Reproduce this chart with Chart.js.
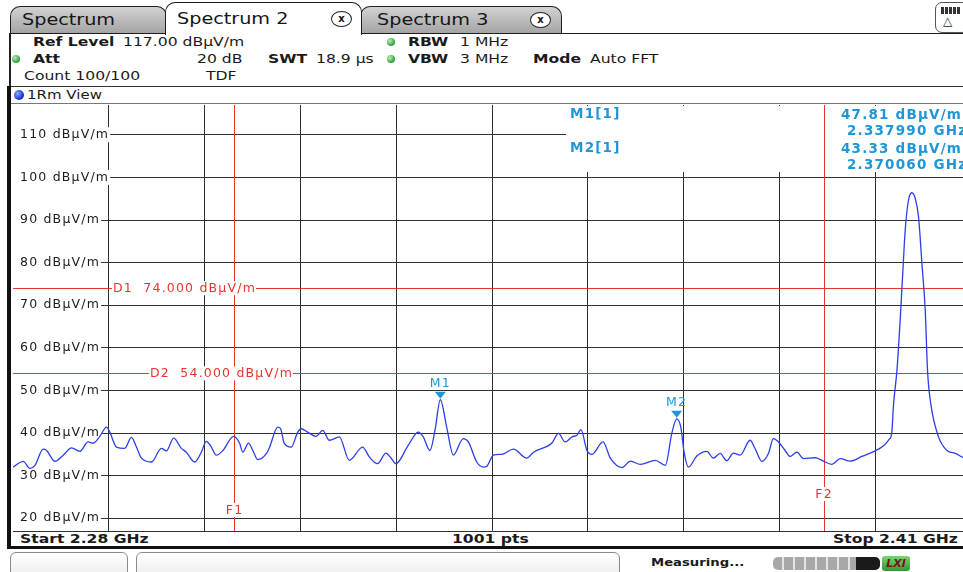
<!DOCTYPE html>
<html lang="en">
<head>
<meta charset="utf-8">
<title>Spectrum 2</title>
<script src="https://cdn.jsdelivr.net/npm/chart.js@4.4.1/dist/chart.umd.min.js"></script>
<style>
  html, body { margin:0; padding:0; background:#fff; }
  body { width:963px; height:572px; overflow:hidden; position:relative; font-family:"DejaVu Sans", sans-serif; color:#1a1a1a; }
  .t { position:absolute; white-space:nowrap; font-size:13px; line-height:16px; transform:scaleX(1.2); transform-origin:0 50%; }
  .b { font-weight:bold; }
  .tab { position:absolute; box-sizing:border-box; border:1.5px solid #1e1e1e; border-bottom:none; border-radius:10px 10px 0 0; }
  .tab.off { background:linear-gradient(#d2d2d2, #a4a4a4); height:27px; top:6px; }
  .tab.on { background:#fff; top:2px; height:33px; z-index:3; }
  .tab .lbl { position:absolute; font-size:16px; line-height:20px; white-space:nowrap; transform:scaleX(1.2); transform-origin:0 50%; color:#151515; }
  .close { position:absolute; box-sizing:border-box; width:21px; height:16px; border:1.5px solid #222; border-radius:50%; font-size:10px; font-weight:bold; line-height:13px; text-align:center; color:#111; background:#fff; }
  .dot { position:absolute; width:8px; height:8px; border-radius:50%; background:radial-gradient(circle at 35% 35%, #b6f0b6, #2f9d3c 70%); }
  .box { position:absolute; box-sizing:border-box; border:1px solid #8a8a8a; border-radius:6px; background:linear-gradient(#ffffff, #ececec); }
  #plot { position:absolute; left:0; top:100px; width:980px; height:436px; }
</style>
</head>
<body>
  <!-- tab strip -->
  <div class="tab off" style="left:10px;width:157px;"><span class="lbl" style="left:11px;top:3px;">Spectrum</span></div>
  <div class="tab off" style="left:360px;width:202px;"><span class="lbl" style="left:16px;top:3px;">Spectrum 3</span><span class="close" style="left:169px;top:5px;">x</span></div>
  <div class="tab on" style="left:165px;width:197px;"><span class="lbl" style="left:11px;top:6px;">Spectrum 2</span><span class="close" style="left:165px;top:8px;">x</span></div>
  <div style="position:absolute;left:935px;top:2px;width:34px;height:31px;box-sizing:border-box;border:1.5px solid #555;border-radius:7px;background:#fff;">
    <div style="position:absolute;left:5px;top:4px;width:20px;height:7px;background:repeating-linear-gradient(90deg,#333 0 3px,#fff 3px 4px);"></div>
    <span style="position:absolute;left:7px;top:11px;font-size:12px;line-height:14px;">△</span>
  </div>

  <!-- settings header -->
  <div style="position:absolute;left:9px;top:33px;width:960px;height:0;border-top:1.5px solid #1e1e1e;"></div>
  <div style="position:absolute;left:9px;top:33px;width:2px;height:53px;background:#222;"></div>

  <span class="t b" style="left:33px;top:34px;">Ref Level</span>
  <span class="t" style="left:123px;top:34px;">117.00 dBµV/m</span>
  <span class="dot" style="left:387px;top:38px;"></span>
  <span class="t b" style="left:408px;top:34px;">RBW</span>
  <span class="t" style="left:460px;top:34px;">1 MHz</span>

  <span class="dot" style="left:12px;top:55px;"></span>
  <span class="t b" style="left:33px;top:51px;">Att</span>
  <span class="t" style="left:197px;top:51px;">20 dB</span>
  <span class="t b" style="left:268px;top:51px;">SWT</span>
  <span class="t" style="left:316px;top:51px;">18.9 µs</span>
  <span class="dot" style="left:387px;top:55px;"></span>
  <span class="t b" style="left:408px;top:51px;">VBW</span>
  <span class="t" style="left:460px;top:51px;">3 MHz</span>
  <span class="t b" style="left:533px;top:51px;">Mode</span>
  <span class="t" style="left:590px;top:51px;">Auto FFT</span>

  <span class="t" style="left:24px;top:68px;">Count 100/100</span>
  <span class="t" style="left:206px;top:68px;">TDF</span>

  <!-- view title bar -->
  <div style="position:absolute;left:9px;top:86px;width:960px;height:18px;box-sizing:border-box;border-top:1.5px solid #333;border-bottom:1px solid #777;"></div>
  <span style="position:absolute;left:14px;top:90px;width:10px;height:10px;border-radius:50%;background:radial-gradient(circle at 35% 35%, #8aa6ff, #0a2ad0 70%);"></span>
  <span class="t" style="left:27px;top:87px;font-size:12.5px;">1Rm View</span>

  <!-- window frame -->
  <div style="position:absolute;left:7px;top:86px;width:4px;height:463px;background:#111;"></div>
  <div style="position:absolute;left:7px;top:546px;width:960px;height:3px;background:#111;"></div>

  <!-- sweep range row -->
  <span class="t b" style="left:20px;top:531px;">Start 2.28 GHz</span>
  <span class="t b" style="left:452px;top:531px;">1001 pts</span>
  <span class="t b" style="left:833px;top:531px;">Stop 2.41 GHz</span>

  <!-- status bar -->
  <div class="box" style="left:10px;top:552px;width:118px;height:26px;"></div>
  <div class="box" style="left:136px;top:552px;width:484px;height:26px;"></div>
  <span class="t b" style="left:651px;top:555px;font-size:11px;">Measuring...</span>
  <div style="position:absolute;left:773px;top:557px;width:107px;height:13px;border-radius:5px;overflow:hidden;background:repeating-linear-gradient(90deg,#a8a8a8 0 9px,#e4e4e4 9px 11px);">
    <div style="position:absolute;right:0;top:0;width:24px;height:13px;background:#1a1a1a;"></div>
  </div>
  <span style="position:absolute;left:882px;top:556px;width:28px;height:15px;border-radius:3px;background:linear-gradient(#7fd36f,#2f9a2f);color:#7a1020;font:italic bold 11px/15px 'DejaVu Sans';text-align:center;">LXI</span>

  <div id="plot"><canvas id="c" width="980" height="436"></canvas></div>

<script>
// Trace: frequency (MHz) and level (dBµV/m)
const freqMHz = [
  2280.00, 2281.39, 2282.30, 2282.98, 2284.10, 2284.56, 2285.69, 2286.81, 2287.95, 2289.07,
  2290.20, 2290.87, 2291.78, 2292.69, 2293.14, 2294.04, 2295.17, 2296.07, 2296.75, 2297.43,
  2298.78, 2300.14, 2300.81, 2301.80, 2302.85, 2303.52, 2304.65, 2305.55, 2306.23, 2306.91,
  2307.59, 2308.48, 2309.93, 2310.74, 2311.19, 2311.96, 2312.54, 2313.22, 2314.40, 2314.80,
  2315.93, 2316.29, 2316.83, 2317.74, 2318.64, 2319.10, 2319.99, 2321.13, 2322.02, 2322.93,
  2324.28, 2325.64, 2327.44, 2328.35, 2329.47, 2330.61, 2331.28, 2331.96, 2333.63, 2334.99,
  2335.67, 2336.58, 2337.26, 2337.99, 2338.85, 2339.75, 2341.11, 2341.79, 2342.93, 2343.84,
  2344.30, 2345.19, 2346.34, 2347.91, 2349.73, 2350.63, 2353.13, 2354.02, 2354.94, 2355.85,
  2356.53, 2357.07, 2357.89, 2358.57, 2360.06, 2361.06, 2362.64, 2363.78, 2365.13, 2367.17,
  2368.52, 2369.40, 2370.06, 2370.62, 2371.07, 2371.65, 2372.79, 2374.15, 2375.05, 2375.95,
  2376.87, 2377.76, 2378.67, 2380.03, 2380.71, 2381.62, 2382.51, 2383.19, 2383.87, 2384.78,
  2385.46, 2386.37, 2387.27, 2388.85, 2389.76, 2391.12, 2392.25, 2393.60, 2395.19, 2397.00,
  2398.13, 2398.90, 2399.24, 2399.48, 2399.95, 2400.39, 2400.76, 2401.07, 2401.52, 2401.98,
  2402.43, 2402.88, 2403.34, 2403.79, 2404.10, 2404.54, 2405.59, 2406.74, 2407.86, 2408.95
];
const levelDb = [
  32.0, 33.35, 31.7, 32.4, 36.2, 35.9, 33.35, 34.8, 36.5, 35.7,
  37.9, 37.6, 39.2, 41.4, 40.2, 36.7, 36.4, 39.0, 36.7, 34.1,
  33.2, 36.4, 35.8, 38.8, 36.4, 35.5, 33.2, 35.5, 38.05, 36.7,
  34.8, 35.9, 39.2, 37.65, 35.5, 37.65, 35.9, 33.75, 35.2, 36.6,
  41.4, 41.1, 37.5, 36.7, 40.2, 41.0, 40.2, 39.2, 40.6, 38.3,
  39.1, 33.6, 36.7, 34.4, 32.8, 35.3, 34.2, 32.8, 37.1, 40.2,
  39.1, 35.9, 40.6, 47.81, 41.4, 34.8, 38.7, 37.9, 33.2, 32.0,
  32.2, 34.8, 35.0, 36.2, 34.1, 35.5, 37.65, 39.9, 37.9, 39.1,
  39.5, 40.8, 35.9, 35.0, 37.9, 34.1, 31.9, 33.4, 32.65, 33.6,
  32.4, 39.9, 43.33, 41.4, 35.5, 32.0, 34.6, 35.7, 34.1, 35.2,
  33.5, 35.3, 34.8, 38.3, 36.3, 33.35, 35.2, 38.7, 37.9, 35.9,
  34.5, 35.5, 34.0, 34.2, 33.6, 32.65, 34.0, 33.4, 34.5, 35.8,
  37.0, 38.5, 39.9, 46.5, 54.7, 66.5, 78.2, 87.6, 94.7, 96.4,
  95.1, 90.75, 79.8, 68.8, 54.7, 46.9, 39.1, 35.9, 35.2, 34.2
];

// Axis range and grid divisions
const spanMHz = [2280, 2410];
const levelRange = [17, 117];
const levelTicks = [20, 30, 40, 50, 60, 70, 80, 90, 100, 110];
const freqGridMHz = [2293, 2306, 2319, 2332, 2345, 2358, 2371, 2384, 2397];

// Display lines (horizontal limits) and frequency lines
const displayLineNames = ['D1', 'D2'];
const displayLineLevels = [74, 54];
const freqLineNames = ['F1', 'F2'];
const freqLineMHz = [2310, 2390];

// Markers
const markerNames = ['M1', 'M2'];
const markerFreqMHz = [2337.99, 2370.06];
const markerLevels = [47.81, 43.33];

const RED = '#e8352b';
const BLUE_MARK = '#1f96d8';
const SPACING = '1.2px';

const overlay = {
  id: 'overlay',
  beforeUpdate(chart) { chart.ctx.letterSpacing = SPACING; },
  beforeDraw(chart) { chart.ctx.letterSpacing = SPACING; },
  beforeDatasetsDraw(chart) {
    const { ctx, chartArea: a, scales: { x, y } } = chart;
    ctx.save();
    ctx.letterSpacing = SPACING;

    // marker readout panel (top right)
    ctx.fillStyle = '#fff';
    ctx.fillRect(a.left + 553, a.top + 1, a.right - a.left - 553, 66);
    ctx.fillStyle = BLUE_MARK;
    ctx.font = 'bold 13.5px "DejaVu Sans"';
    ctx.textBaseline = 'middle';
    ctx.textAlign = 'left';
    markerNames.forEach((name, i) => {
      const row = a.top + 9 + i * 34;
      ctx.fillText(name + '[1]', a.left + 557, row);
      ctx.fillText(markerLevels[i].toFixed(2) + ' dBµV/m', a.left + 828, row + 1);
      ctx.fillText((markerFreqMHz[i] / 1000).toFixed(6) + ' GHz', a.left + 834, row + 17);
    });

    // display lines and frequency lines
    ctx.strokeStyle = RED;
    ctx.lineWidth = 1;
    displayLineLevels.forEach(lv => {
      const py = Math.round(y.getPixelForValue(lv)) + 0.5;
      ctx.beginPath(); ctx.moveTo(a.left, py); ctx.lineTo(a.right, py); ctx.stroke();
    });
    freqLineMHz.forEach(f => {
      const px = Math.round(x.getPixelForValue(f)) + 0.5;
      ctx.beginPath(); ctx.moveTo(px, a.top); ctx.lineTo(px, a.bottom); ctx.stroke();
    });

    ctx.font = '12.5px "DejaVu Sans"';
    const dOffsets = [100, 137];
    displayLineNames.forEach((n, i) => {
      const text = n + '  ' + displayLineLevels[i].toFixed(3) + ' dBµV/m';
      const py = y.getPixelForValue(displayLineLevels[i]);
      const lx = a.left + dOffsets[i];
      const w = ctx.measureText(text).width;
      ctx.fillStyle = '#fff';
      ctx.fillRect(lx - 1, py - 7, w + 1, 14);
      ctx.fillStyle = RED;
      ctx.textAlign = 'left';
      ctx.fillText(text, lx, py + 0.5);
    });
    const fOffsets = [21, 37];
    freqLineNames.forEach((n, i) => {
      const px = x.getPixelForValue(freqLineMHz[i]);
      const py = a.bottom - fOffsets[i];
      const w = ctx.measureText(n).width;
      ctx.fillStyle = '#fff';
      ctx.fillRect(px - w / 2 - 1, py - 7, w + 2, 14);
      ctx.fillStyle = RED;
      ctx.textAlign = 'center';
      ctx.fillText(n, px + 0.5, py + 0.5);
    });
    ctx.restore();
  },
  afterDatasetsDraw(chart) {
    const { ctx, scales: { x, y } } = chart;
    ctx.save();
    ctx.letterSpacing = SPACING;
    ctx.fillStyle = BLUE_MARK;
    ctx.font = '12.5px "DejaVu Sans"';
    ctx.textAlign = 'center';
    ctx.textBaseline = 'middle';
    markerNames.forEach((n, i) => {
      const px = x.getPixelForValue(markerFreqMHz[i]);
      const py = y.getPixelForValue(markerLevels[i]);
      ctx.beginPath();
      ctx.moveTo(px, py - 1);
      ctx.lineTo(px - 5.5, py - 8);
      ctx.lineTo(px + 5.5, py - 8);
      ctx.closePath();
      ctx.fill();
      ctx.fillText(n, px, py - 16);
    });
    ctx.restore();
  }
};

new Chart(document.getElementById('c'), {
  type: 'line',
  data: {
    datasets: [{
      label: 'Trace 1 (RM)',
      data: freqMHz.map((f, i) => ({ x: f, y: levelDb[i] })),
      borderColor: '#2c3fe6',
      borderWidth: 1.3,
      pointRadius: 0,
      cubicInterpolationMode: 'monotone',
      fill: false
    }]
  },
  options: {
    responsive: false,
    animation: false,
    devicePixelRatio: 1,
    layout: { padding: { left: 13, right: 9, top: 5, bottom: 5 } },
    plugins: { legend: { display: false }, tooltip: { enabled: false } },
    scales: {
      x: {
        type: 'linear',
        bounds: 'data',
        min: spanMHz[0],
        max: spanMHz[1],
        afterBuildTicks: s => { s.ticks = freqGridMHz.map(v => ({ value: v })); },
        afterFit: s => { s.height = 0; s.paddingLeft = 0; s.paddingRight = 0; s.paddingTop = 0; s.paddingBottom = 0; },
        ticks: { display: false },
        grid: { color: '#303030', lineWidth: 1, drawTicks: false },
        border: { display: true, color: '#303030' }
      },
      y: {
        type: 'linear',
        bounds: 'data',
        min: levelRange[0],
        max: levelRange[1],
        afterBuildTicks: s => { s.ticks = levelTicks.map(v => ({ value: v })); },
        afterFit: s => { s.width = 0; s.paddingTop = 0; s.paddingBottom = 0; s.paddingLeft = 0; s.paddingRight = 0; },
        ticks: {
          mirror: true,
          padding: 7,
          color: '#1c1c1c',
          font: { family: 'DejaVu Sans', size: 12.5 },
          callback: v => v + ' dBµV/m',
          showLabelBackdrop: true,
          backdropColor: '#fff',
          backdropPadding: { top: 0, bottom: 0, left: 7, right: 1 }
        },
        grid: { color: '#303030', lineWidth: 1, drawTicks: false },
        border: { display: false }
      }
    }
  },
  plugins: [overlay]
});
</script>
</body>
</html>
